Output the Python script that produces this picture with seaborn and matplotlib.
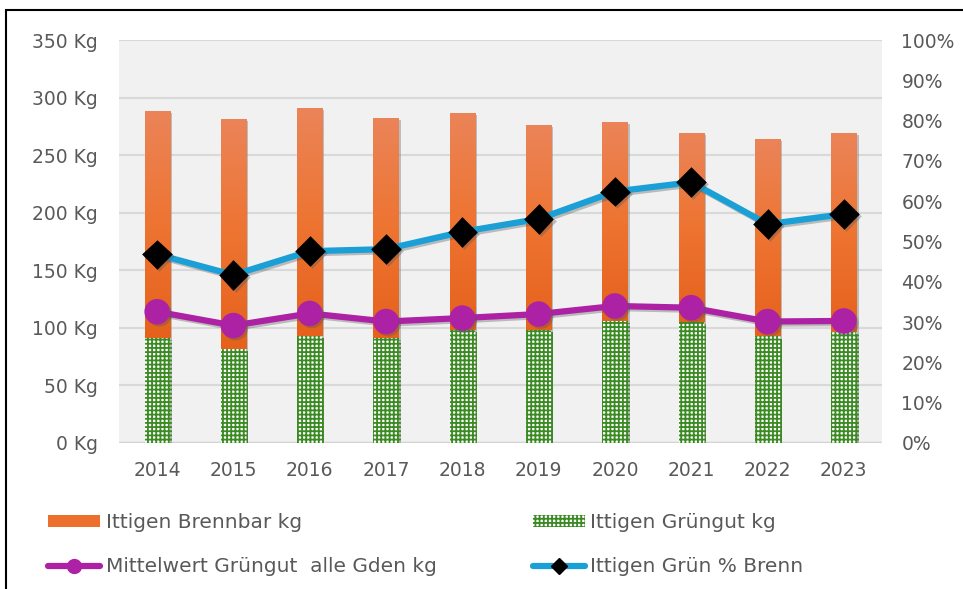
import numpy as np
import pandas as pd
import matplotlib
matplotlib.use("Agg")
import matplotlib.pyplot as plt
import matplotlib.patheffects as pe
from matplotlib.colors import LinearSegmentedColormap
from matplotlib.patches import Rectangle, Patch
from matplotlib.lines import Line2D
import seaborn as sns

years = ["2014", "2015", "2016", "2017", "2018", "2019", "2020", "2021", "2022", "2023"]
brennbar_kg = [197, 200, 198, 190.5, 188.5, 178, 173, 163.5, 171.5, 172.5]
gruengut_kg = [91.5, 81.5, 93, 91.5, 98, 98, 106, 105.5, 92.5, 96.5]
mittel_gruengut_kg = [114, 102, 112.5, 105.5, 108.5, 112, 119, 117.5, 105.5, 106]
gruen_pct_brenn = [46.8, 41.7, 47.6, 48.1, 52.4, 55.6, 62.4, 64.7, 54.3, 56.8]

df = pd.DataFrame({
    "jahr": years,
    "brennbar": brennbar_kg,
    "gruengut": gruengut_kg,
    "mittel": mittel_gruengut_kg,
    "prozent": gruen_pct_brenn,
})

sns.set_style("white")
plt.rcParams["font.family"] = ["DejaVu Sans"]
plt.rcParams["hatch.linewidth"] = 1.3
txt = "#595959"
green = "#3B8A23"

fig = plt.figure(figsize=(9.63, 5.89), dpi=100)
ax = fig.add_axes([119 / 963, 1 - 443 / 589, (882 - 119) / 963, (443 - 40) / 589])
ax.set_facecolor("#F1F1F1")

shadow = [pe.SimplePatchShadow(offset=(1.5, -1.5), shadow_rgbFace="#888888", alpha=0.5), pe.Normal()]

# stacked: Grüngut at the bottom, Brennbar on top
sns.barplot(data=df, x="jahr", y="gruengut", color="white", width=0.33,
            saturation=1, errorbar=None, ax=ax, zorder=3)
n_green = len(ax.patches)
sns.barplot(data=df, x="jahr", y="brennbar", bottom=df["gruengut"], color="#EC6F2D",
            width=0.33, saturation=1, errorbar=None, ax=ax, zorder=2)

cmap = LinearSegmentedColormap.from_list("or", ["#E5611C", "#EE7431", "#EB8459"])
grad = np.linspace(0, 1, 256).reshape(-1, 1)
for i, bar in enumerate(ax.patches):
    bar.set_path_effects(shadow)
    if i < n_green:
        bar.set_hatch("++++")
        bar.set_edgecolor(green)
        bar.set_linewidth(0)
    else:
        bar.set_edgecolor("none")
        x0, y0 = bar.get_x(), bar.get_y()
        w, h = bar.get_width(), bar.get_height()
        im = ax.imshow(grad, cmap=cmap, origin="lower", aspect="auto",
                       extent=(x0, x0 + w, y0, y0 + h), zorder=2.1)
        im.set_clip_path(bar)
ax.set_ylim(0, 350)
ax.set_xlim(-0.5, len(years) - 0.5)

line_shadow = [pe.SimpleLineShadow(offset=(1.5, -1.5), shadow_color="#555555", alpha=0.35), pe.Normal()]

sns.pointplot(data=df, x="jahr", y="mittel", color="#AD22A5", markers="o",
              markersize=15, linewidth=4.5, ax=ax, zorder=5)
for ln in ax.lines:
    ln.set_path_effects(line_shadow)

ax2 = ax.twinx()
sns.pointplot(data=df, x="jahr", y="prozent", color="#1A9FD6", markers="D",
              markersize=12, linewidth=4.5, ax=ax2, zorder=5)
for ln in ax2.lines:
    ln.set_markerfacecolor("black")
    ln.set_markeredgecolor("black")
    ln.set_path_effects(line_shadow)
ax2.set_ylim(0, 100)
ax2.set_xlim(-0.5, len(years) - 0.5)

ax.set_yticks(range(0, 351, 50))
ax.set_yticklabels([f"{v} Kg" for v in range(0, 351, 50)])
ax2.set_yticks(range(0, 101, 10))
ax2.set_yticklabels([f"{v}%" for v in range(0, 101, 10)])

ax.grid(axis="y", color="#D9D9D9", linewidth=1.5, zorder=0)
ax.set_axisbelow(True)
for s in ax.spines.values():
    s.set_visible(False)
for s in ax2.spines.values():
    s.set_visible(False)
ax.axhline(0, color="#D4D4D4", linewidth=2.5, zorder=1)

ax.set_xlabel("")
ax.set_ylabel("")
ax2.set_ylabel("")
ax.tick_params(axis="both", length=0, labelsize=13.5, colors=txt)
ax.tick_params(axis="x", pad=13)
ax.tick_params(axis="y", pad=15)
ax2.tick_params(axis="y", length=0, labelsize=13.5, colors=txt, pad=14)

handles = [
    Patch(facecolor="#EC6F2D", edgecolor="none"),
    Line2D([], [], color="#AD22A5", linewidth=4.5, marker="o", markersize=10),
    Patch(facecolor="white", edgecolor=green, hatch="++++", linewidth=0),
    Line2D([], [], color="#1A9FD6", linewidth=4.5, marker="D", markersize=8,
           markerfacecolor="black", markeredgecolor="black"),
]
labels = ["Ittigen Brennbar kg", "Mittelwert Grüngut  alle Gden kg",
          "Ittigen Grüngut kg", "Ittigen Grün % Brenn"]
fig.legend(handles, labels, loc="upper left", bbox_to_anchor=(30 / 963, 1 - 495 / 589),
           ncol=2, frameon=False, fontsize=14.5, labelcolor=txt, handlelength=2.6,
           handleheight=0.6, handletextpad=0.25, columnspacing=4.8, labelspacing=1.25)

fig.add_artist(Rectangle((6 / 963, -0.1), 1.2, 1 - 10 / 589 + 0.1, transform=fig.transFigure,
                         fill=False, edgecolor="black", linewidth=1.5))

fig.savefig("out.png", dpi=100)
